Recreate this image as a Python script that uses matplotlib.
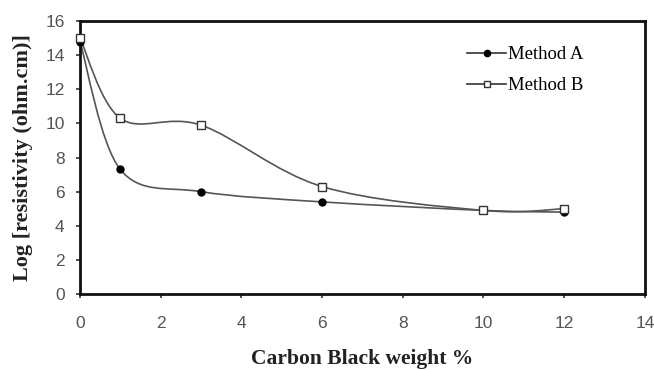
import numpy as np
import matplotlib.pyplot as plt
from matplotlib.path import Path
from matplotlib.patches import PathPatch

# data
carbon = [0, 1, 3, 6, 10, 12]
method_a = [14.8, 7.3, 6.0, 5.4, 4.9, 4.8]
method_b = [15.0, 10.3, 9.9, 6.3, 4.9, 5.0]


def smooth_path(x, y, t=1/6):
    # excel-like smoothed line: bezier segments through the points
    x = np.asarray(x, float)
    y = np.asarray(y, float)
    n = len(x)
    verts = [(x[0], y[0])]
    codes = [Path.MOVETO]
    for i in range(n - 1):
        p0 = np.array([x[max(i - 1, 0)], y[max(i - 1, 0)]])
        p1 = np.array([x[i], y[i]])
        p2 = np.array([x[i + 1], y[i + 1]])
        p3 = np.array([x[min(i + 2, n - 1)], y[min(i + 2, n - 1)]])
        c1 = p1 + (p2 - p0) * t
        c2 = p2 - (p3 - p1) * t
        verts += [tuple(c1), tuple(c2), tuple(p2)]
        codes += [Path.CURVE4] * 3
    return Path(verts, codes)


fig = plt.figure(figsize=(6.54, 3.70), dpi=100)
ax = fig.add_axes([0.1223, 0.2054, 0.8637, 0.7376])

line_col = '#555555'
for ys in (method_a, method_b):
    ax.add_patch(PathPatch(smooth_path(carbon, ys), fill=False,
                           edgecolor=line_col, lw=1.2, zorder=2))

ax.plot(carbon, method_a, ls='none', marker='o', ms=5, mfc='black',
        mec='black', zorder=3, clip_on=False)
ax.plot(carbon, method_b, ls='none', marker='s', ms=5.5, mfc='white',
        mec='#333333', mew=1.0, zorder=3, clip_on=False)

# legend handles
ha, = ax.plot([], [], color='#333333', lw=1.2, marker='o', ms=4.5,
              mfc='black', mec='black')
hb, = ax.plot([], [], color='#333333', lw=1.2, marker='s', ms=4.5,
              mfc='white', mec='#333333')
ax.legend([ha, hb], ['Method A', 'Method B'], loc='upper left',
          bbox_to_anchor=(0.655, 0.97), frameon=False, handlelength=2.1,
          handletextpad=0.1, labelspacing=0.75,
          prop={'family': 'Liberation Serif', 'size': 13.5})

ax.set_xlim(0, 14)
ax.set_ylim(0, 16)
ax.set_xticks(range(0, 15, 2))
ax.set_yticks(range(0, 17, 2))
for s in ax.spines.values():
    s.set_linewidth(2)
    s.set_color('#111111')
ax.tick_params(direction='out', length=3, width=1.2, labelsize=12.5,
               labelcolor='#555555', color='#333333')
ax.tick_params(axis='x', pad=12.5)
ax.tick_params(axis='y', pad=8)
for lab in ax.get_xticklabels() + ax.get_yticklabels():
    lab.set_family('Liberation Sans')

ax.set_xlabel('Carbon Black weight %', family='Liberation Serif',
              fontweight='bold', fontsize=15.5, color='#222222', labelpad=13)
ax.set_ylabel('Log [resistivity (ohm.cm)]', family='Liberation Serif',
              fontweight='bold', fontsize=16, color='#222222', labelpad=9)

fig.savefig('out.png', dpi=100)
